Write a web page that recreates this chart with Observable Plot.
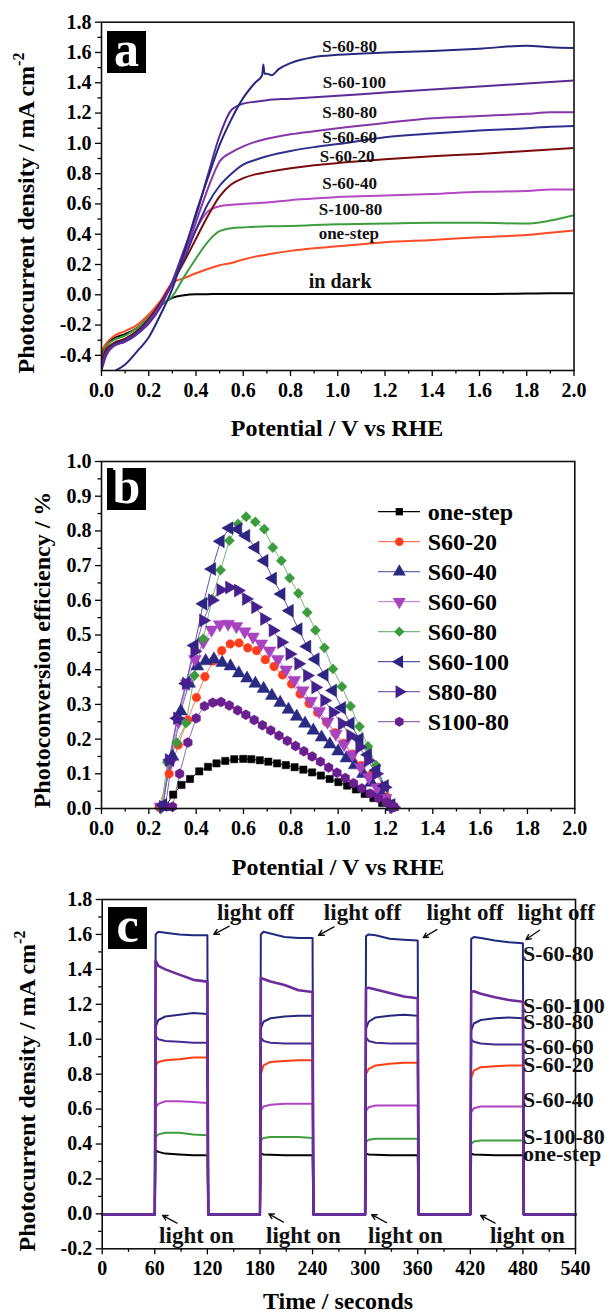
<!DOCTYPE html>
<html><head><meta charset="utf-8">
<script src="https://cdn.jsdelivr.net/npm/d3@7"></script>
<script src="https://cdn.jsdelivr.net/npm/@observablehq/plot@0.6"></script>
<style>
body{margin:0;background:#fff;}
#wrap{position:relative;width:607px;height:1316px;overflow:hidden;background:#fff;font-family:'Liberation Serif','Times New Roman',serif;font-weight:bold;color:#000;}
.panel{position:absolute;left:0;}
.ttl{position:absolute;white-space:nowrap;font-size:24px;line-height:1;transform:translate(-50%,-50%);}
.ttl.rot{transform:translate(-50%,-50%) rotate(-90deg);}
.ttl sup{font-size:16px;vertical-align:0;position:relative;top:-10px;}
.tag{position:absolute;background:#000;color:#fff;font-size:50px;line-height:1;display:flex;align-items:center;justify-content:center;}
.tag span{position:relative;top:-3px;}
</style></head>
<body><div id="wrap">
<div id="pa" class="panel" style="top:0"></div>
<div id="pb" class="panel" style="top:440px"></div>
<div id="pc" class="panel" style="top:880px"></div>
<div class="tag" style="left:107px;top:31px;width:39px;height:42px"><span>a</span></div>
<div class="tag" style="left:107px;top:468px;width:39px;height:42px"><span>b</span></div>
<div class="tag" style="left:108px;top:907px;width:39px;height:42px"><span>c</span></div>
<div class="ttl" style="left:337px;top:428px">Potential / V vs RHE</div>
<div class="ttl rot" style="left:26px;top:213px">Photocurrent density / mA cm<sup>-2</sup></div>
<div class="ttl" style="left:338px;top:867px">Potential / V vs RHE</div>
<div class="ttl rot" style="left:42px;top:650px">Photoconversion efficiency / %</div>
<div class="ttl" style="left:338px;top:1301px">Time / seconds</div>
<div class="ttl rot" style="left:27px;top:1091px">Photocurrent density / mA cm<sup>-2</sup></div>
</div>
<script>
// ---------- Panel a : linear sweep ----------
const aGrid = [0, 0.02, 0.05, 0.1, 0.15, 0.2, 0.25, 0.3, 0.35, 0.4, 0.45, 0.5, 0.55, 0.6, 0.65, 0.7, 0.8, 0.9, 1.0, 1.2, 1.4, 1.6, 1.8, 1.9, 2.0];
const aDark    = [-0.40,-0.33,-0.29,-0.26,-0.22,-0.15,-0.07,-0.02,-0.003,0.003,0.004,0.005,0.005,0.005,0.005,0.005,0.005,0.005,0.005,0.005,0.005,0.005,0.008,0.01,0.01];
const aOneStep = [-0.37,-0.32,-0.275,-0.24,-0.20,-0.13,-0.04,0.08,0.11,0.142,0.17,0.195,0.21,0.233,0.252,0.265,0.29,0.307,0.32,0.347,0.362,0.38,0.395,0.41,0.425];
const aS100_80 = [-0.42,-0.34,-0.30,-0.27,-0.22,-0.15,-0.07,-0.01,0.12,0.24,0.35,0.42,0.44,0.445,0.45,0.452,0.455,0.46,0.465,0.47,0.475,0.475,0.47,0.49,0.525];
const aS60_40  = [-0.45,-0.37,-0.33,-0.30,-0.25,-0.17,-0.06,0.07,0.25,0.43,0.55,0.585,0.595,0.60,0.605,0.61,0.625,0.635,0.645,0.655,0.665,0.68,0.685,0.695,0.695];
const aS60_20  = [-0.44,-0.36,-0.32,-0.29,-0.24,-0.16,-0.05,0.08,0.22,0.37,0.52,0.65,0.73,0.77,0.795,0.81,0.835,0.855,0.87,0.895,0.915,0.93,0.95,0.96,0.97];
const aS60_60  = [-0.46,-0.38,-0.33,-0.30,-0.25,-0.17,-0.06,0.08,0.24,0.43,0.60,0.72,0.80,0.86,0.89,0.915,0.95,0.975,0.995,1.04,1.065,1.085,1.10,1.11,1.115];
const aS80_80  = [-0.48,-0.39,-0.34,-0.31,-0.26,-0.18,-0.07,0.08,0.26,0.48,0.70,0.88,0.94,0.98,1.01,1.03,1.06,1.08,1.10,1.135,1.165,1.18,1.195,1.205,1.205];
const aS60_100 = [-0.50,-0.40,-0.34,-0.31,-0.26,-0.19,-0.08,0.09,0.30,0.52,0.79,1.05,1.22,1.262,1.275,1.285,1.295,1.305,1.315,1.335,1.355,1.375,1.395,1.405,1.415];
const aS60_80x = [0.06,0.1,0.15,0.2,0.25,0.3,0.35,0.4,0.45,0.5,0.55,0.6,0.65,0.68,0.685,0.69,0.7,0.72,0.75,0.8,0.9,1.0,1.2,1.4,1.6,1.8,1.9,2.0];
const aS60_80  = [-0.5,-0.46,-0.375,-0.28,-0.13,0.04,0.28,0.54,0.77,0.99,1.16,1.30,1.40,1.45,1.52,1.46,1.46,1.45,1.49,1.53,1.57,1.585,1.60,1.61,1.625,1.645,1.635,1.63];
const aLabels = [
  {t:"S-60-80", x:1.05, y:1.642}, {t:"S-60-100", x:1.07, y:1.40}, {t:"S-80-80", x:1.05, y:1.206},
  {t:"S-60-60", x:1.05, y:1.037}, {t:"S-60-20", x:1.04, y:0.913}, {t:"S-60-40", x:1.05, y:0.733},
  {t:"S-100-80", x:1.054, y:0.562}, {t:"one-step", x:1.047, y:0.407}
];
const aDarkLabel = [{t:"in dark", x:1.01, y:0.084}];
const aXTicks = [0,0.2,0.4,0.6,0.8,1.0,1.2,1.4,1.6,1.8,2.0];
const aXMinor = [0.1,0.3,0.5,0.7,0.9,1.1,1.3,1.5,1.7,1.9];
const aYTicks = [-0.4,-0.2,0,0.2,0.4,0.6,0.8,1.0,1.2,1.4,1.6,1.8];
const aYMinor = [-0.3,-0.1,0.1,0.3,0.5,0.7,0.9,1.1,1.3,1.5,1.7];

// ---------- Panel b : photoconversion efficiency ----------
const bOneStep = [[0.27,0.005],[0.303,0.04],[0.338,0.068],[0.374,0.085],[0.413,0.107],[0.45,0.12],[0.486,0.13],[0.523,0.137],[0.561,0.142],[0.599,0.143],[0.633,0.142],[0.669,0.139],[0.705,0.135],[0.742,0.13],[0.779,0.125],[0.816,0.119],[0.853,0.112],[0.89,0.104],[0.927,0.095],[0.964,0.085],[1.001,0.076],[1.038,0.066],[1.075,0.055],[1.112,0.042],[1.149,0.03],[1.186,0.016],[1.22,0.004]];
const bS60_20 = [[0.243,0.004],[0.286,0.10],[0.324,0.183],[0.364,0.255],[0.401,0.32],[0.437,0.38],[0.472,0.425],[0.508,0.455],[0.544,0.474],[0.581,0.477],[0.618,0.463],[0.655,0.455],[0.692,0.429],[0.729,0.409],[0.765,0.385],[0.803,0.359],[0.839,0.33],[0.877,0.303],[0.913,0.277],[0.951,0.249],[0.987,0.218],[1.024,0.188],[1.061,0.157],[1.098,0.124],[1.135,0.095],[1.172,0.061],[1.205,0.033],[1.238,0.004]];
const bS60_40 = [[0.27,0.005],[0.30,0.15],[0.335,0.28],[0.37,0.36],[0.405,0.41],[0.44,0.425],[0.475,0.43],[0.51,0.42],[0.545,0.41],[0.58,0.39],[0.615,0.375],[0.65,0.36],[0.685,0.345],[0.72,0.325],[0.755,0.305],[0.79,0.285],[0.825,0.265],[0.86,0.245],[0.895,0.225],[0.93,0.205],[0.965,0.185],[1.0,0.165],[1.035,0.145],[1.07,0.125],[1.105,0.1],[1.14,0.075],[1.175,0.05],[1.21,0.02],[1.23,0.005]];
const bS60_60 = [[0.25,0.005],[0.29,0.13],[0.325,0.25],[0.36,0.36],[0.395,0.43],[0.43,0.48],[0.465,0.515],[0.50,0.53],[0.535,0.532],[0.57,0.525],[0.605,0.51],[0.64,0.495],[0.675,0.475],[0.71,0.455],[0.745,0.43],[0.78,0.40],[0.815,0.37],[0.85,0.34],[0.885,0.31],[0.92,0.28],[0.955,0.25],[0.99,0.215],[1.025,0.185],[1.06,0.155],[1.095,0.12],[1.13,0.09],[1.165,0.06],[1.2,0.03],[1.225,0.005]];
const bS60_80 = [[0.253,0.0],[0.278,0.133],[0.318,0.19],[0.357,0.246],[0.393,0.383],[0.43,0.489],[0.467,0.604],[0.503,0.687],[0.54,0.772],[0.577,0.82],[0.611,0.841],[0.65,0.826],[0.688,0.805],[0.724,0.752],[0.76,0.714],[0.795,0.664],[0.832,0.62],[0.869,0.565],[0.904,0.514],[0.942,0.463],[0.978,0.402],[1.016,0.351],[1.052,0.295],[1.09,0.236],[1.126,0.179],[1.161,0.124],[1.197,0.064],[1.233,0.004]];
const bS60_100 = [[0.26,0.01],[0.29,0.14],[0.32,0.26],[0.357,0.36],[0.393,0.47],[0.43,0.59],[0.467,0.69],[0.503,0.77],[0.54,0.808],[0.577,0.805],[0.611,0.786],[0.65,0.752],[0.688,0.714],[0.724,0.663],[0.76,0.618],[0.795,0.57],[0.832,0.517],[0.869,0.467],[0.904,0.43],[0.942,0.385],[0.978,0.34],[1.016,0.29],[1.052,0.245],[1.09,0.20],[1.126,0.155],[1.161,0.11],[1.197,0.065],[1.225,0.01]];
const bS80_80 = [[0.26,0.005],[0.285,0.14],[0.32,0.26],[0.357,0.36],[0.393,0.453],[0.43,0.542],[0.467,0.60],[0.503,0.63],[0.54,0.637],[0.577,0.628],[0.611,0.604],[0.65,0.58],[0.688,0.546],[0.724,0.513],[0.76,0.479],[0.795,0.445],[0.832,0.417],[0.869,0.383],[0.904,0.349],[0.942,0.311],[0.978,0.277],[1.016,0.244],[1.052,0.21],[1.09,0.177],[1.126,0.138],[1.161,0.10],[1.197,0.061],[1.233,0.004]];
const bS100_80 = [[0.30,0.005],[0.33,0.10],[0.365,0.19],[0.40,0.26],[0.435,0.295],[0.47,0.305],[0.505,0.307],[0.54,0.297],[0.575,0.283],[0.61,0.27],[0.645,0.255],[0.68,0.24],[0.715,0.225],[0.75,0.21],[0.785,0.195],[0.82,0.18],[0.855,0.165],[0.89,0.15],[0.925,0.135],[0.96,0.118],[0.995,0.103],[1.03,0.088],[1.065,0.073],[1.10,0.058],[1.135,0.043],[1.17,0.03],[1.205,0.018],[1.235,0.005]];
const bNames = ["one-step","S60-20","S60-40","S60-60","S60-80","S60-100","S80-80","S100-80"];
const bXTicks = [0,0.2,0.4,0.6,0.8,1.0,1.2,1.4,1.6,1.8,2.0];
const bXMinor = [0.1,0.3,0.5,0.7,0.9,1.1,1.3,1.5,1.7,1.9];
const bYTicks = [0,0.1,0.2,0.3,0.4,0.5,0.6,0.7,0.8,0.9,1.0];
const bYMinor = [0.05,0.15,0.25,0.35,0.45,0.55,0.65,0.75,0.85,0.95];

// ---------- Panel c : chopped light ----------
const cOn  = [60, 180, 300, 420];
const cOff = [120, 240, 360, 480];
const cRel = [1, 4, 12, 28, 44, 60];
const cDark = -0.004;
const cOneStep = [[0.365,0.355,0.345,0.34,0.335,0.335],[0.345,0.34,0.338,0.335,0.335,0.335],[0.345,0.34,0.338,0.335,0.335,0.335],[0.345,0.34,0.338,0.335,0.335,0.335]];
const cS100_80 = [[0.44,0.455,0.465,0.465,0.455,0.45],[0.42,0.435,0.44,0.44,0.44,0.435],[0.41,0.425,0.43,0.43,0.43,0.43],[0.40,0.415,0.42,0.42,0.42,0.42]];
const cS60_40  = [[0.61,0.63,0.645,0.645,0.64,0.635],[0.59,0.615,0.625,0.63,0.63,0.63],[0.59,0.61,0.62,0.62,0.62,0.62],[0.58,0.605,0.615,0.615,0.615,0.615]];
const cS60_20  = [[0.85,0.87,0.88,0.885,0.895,0.895],[0.80,0.85,0.87,0.875,0.88,0.88],[0.80,0.83,0.85,0.86,0.865,0.865],[0.78,0.82,0.84,0.845,0.85,0.85]];
const cS60_60  = [[1.02,1.0,0.99,0.985,0.98,0.98],[1.01,0.99,0.98,0.975,0.975,0.975],[1.01,0.99,0.98,0.975,0.975,0.975],[1.0,0.985,0.975,0.97,0.97,0.97]];
const cS80_80  = [[1.07,1.11,1.13,1.14,1.15,1.145],[1.06,1.10,1.12,1.13,1.135,1.135],[1.06,1.10,1.125,1.135,1.14,1.135],[1.05,1.09,1.11,1.12,1.125,1.12]];
const cS60_80  = [[1.60,1.615,1.61,1.60,1.595,1.595],[1.60,1.615,1.605,1.585,1.58,1.58],[1.59,1.60,1.595,1.575,1.57,1.565],[1.575,1.585,1.58,1.565,1.555,1.55]];
const cS60_100 = [[1.45,1.42,1.40,1.37,1.34,1.33],[1.35,1.345,1.33,1.31,1.28,1.27],[1.29,1.295,1.285,1.265,1.245,1.235],[1.27,1.275,1.26,1.24,1.225,1.215]];
const cRightLabels = [
  {t:"S-60-80", y:1.49}, {t:"S-60-100", y:1.19}, {t:"S-80-80", y:1.10}, {t:"S-60-60", y:0.958},
  {t:"S-60-20", y:0.853}, {t:"S-60-40", y:0.652}, {t:"S-100-80", y:0.443}, {t:"one-step", y:0.345}
];
const cRightLabelT = 480;
const cOffLabels = [{x:175, y:1.723},{x:297, y:1.723},{x:414, y:1.723},{x:518, y:1.723}];
const cOnLabels  = [{x:107.6, y:-0.123},{x:229.6, y:-0.123},{x:346, y:-0.123},{x:485, y:-0.123}];
const cOffArrows = [{x1:145,y1:1.647,x2:127.3,y2:1.601},{x1:264.5,y1:1.643,x2:246.7,y2:1.595},{x1:381.8,y1:1.628,x2:366.3,y2:1.582},{x1:499,y1:1.624,x2:483.5,y2:1.571}];
const cOnArrows  = [{x1:85.3,y1:-0.053,x2:68.9,y2:-0.009},{x1:206.7,y1:-0.047,x2:190.1,y2:0.0},{x1:324.3,y1:-0.05,x2:307.4,y2:-0.005},{x1:448.2,y1:-0.053,x2:431.7,y2:-0.009}];
const cXTicks = [0,60,120,180,240,300,360,420,480,540];
const cXMinor = [30,90,150,210,270,330,390,450,510];
const cYTicks = [-0.2,0,0.2,0.4,0.6,0.8,1.0,1.2,1.4,1.6,1.8];
const cYMinor = [-0.1,0.1,0.3,0.5,0.7,0.9,1.1,1.3,1.5,1.7];

// ---------- helpers ----------
const serif = "'Liberation Serif','Times New Roman',serif";
const f1 = d => d.toFixed(1);
function axes(xT, xM, yT, yM, xf, yf) {
  return [
    Plot.axisX({ticks: xM, tickSize: 3.5, tickFormat: () => "", label: null, strokeWidth: 1.3}),
    Plot.axisX({ticks: xT, tickSize: 6, tickPadding: 6, tickFormat: xf, label: null, strokeWidth: 1.3}),
    Plot.axisY({ticks: yM, tickSize: 3.5, tickFormat: () => "", label: null, strokeWidth: 1.3}),
    Plot.axisY({ticks: yT, tickSize: 6, tickPadding: 4, tickFormat: yf, label: null, strokeWidth: 1.3}),
    Plot.frame({stroke: "#111", strokeWidth: 1.6})
  ];
}
const baseStyle = {fontFamily: serif, fontSize: "20px", fontWeight: "bold", color: "#000", background: "transparent", overflow: "visible"};

// ---------- Panel a ----------
const aCurves = [
  {x: aGrid, y: aDark, c: "#000000"},
  {x: aGrid, y: aOneStep, c: "#ff4a26"},
  {x: aGrid, y: aS100_80, c: "#3e9d3e"},
  {x: aGrid, y: aS60_40, c: "#b348c4"},
  {x: aGrid, y: aS60_20, c: "#7a0c0c"},
  {x: aGrid, y: aS60_60, c: "#2e2f8e"},
  {x: aGrid, y: aS80_80, c: "#8636a6"},
  {x: aGrid, y: aS60_100, c: "#5a2b98"},
  {x: aS60_80x, y: aS60_80, c: "#27287e"}
];
const pa = Plot.plot({
  width: 607, height: 440, marginLeft: 101, marginRight: 33.5, marginTop: 21.7, marginBottom: 70,
  style: baseStyle,
  x: {domain: [0, 2]}, y: {domain: [-0.5, 1.8]},
  marks: [
    ...aCurves.map(c => Plot.line(c.x.map((x, i) => ({x, y: c.y[i]})), {x: "x", y: "y", stroke: c.c, strokeWidth: 2, curve: "monotone-x", clip: true})),
    ...axes(aXTicks, aXMinor, aYTicks, aYMinor, f1, f1),
    Plot.text(aLabels, {x: "x", y: "y", text: "t", fontSize: 17, fontWeight: "bold", fill: "#111"}),
    Plot.text(aDarkLabel, {x: "x", y: "y", text: "t", fontSize: 20, fontWeight: "bold", fill: "#111"})
  ]
});
document.getElementById("pa").append(pa);

// ---------- Panel b ----------
const s3 = Math.sqrt(3);
const triDown = {draw(c, s) { const y = -Math.sqrt(s / (s3 * 3)); c.moveTo(0, -y * 2); c.lineTo(-s3 * y, y); c.lineTo(s3 * y, y); c.closePath(); }};
const triLeft = {draw(c, s) { const y = -Math.sqrt(s / (s3 * 3)); c.moveTo(y * 2, 0); c.lineTo(-y, -s3 * y); c.lineTo(-y, s3 * y); c.closePath(); }};
const triRight = {draw(c, s) { const y = -Math.sqrt(s / (s3 * 3)); c.moveTo(-y * 2, 0); c.lineTo(y, -s3 * y); c.lineTo(y, s3 * y); c.closePath(); }};
const hexa = {draw(c, s) { const r = Math.sqrt(s / 2.598); for (let i = 0; i < 6; i++) { const a = Math.PI / 3 * i - Math.PI / 2; const px = r * Math.cos(a), py = r * Math.sin(a); if (i) c.lineTo(px, py); else c.moveTo(px, py); } c.closePath(); }};
const bSeries = [
  {pts: bOneStep, color: "#000000", line: "#000000", sym: d3.symbolSquare, r: 4.1},
  {pts: bS60_20, color: "#ff3c1c", line: "#ff7a5a", sym: d3.symbolCircle, r: 4.3},
  {pts: bS60_40, color: "#2b2a82", line: "#6a6ab0", sym: d3.symbolTriangle, r: 4.8},
  {pts: bS60_60, color: "#a843c0", line: "#c88ad6", sym: triDown, r: 4.8},
  {pts: bS60_80, color: "#3c9b3c", line: "#74bb74", sym: d3.symbolDiamond2, r: 4.6},
  {pts: bS60_100, color: "#2c2580", line: "#5a56b0", sym: triLeft, r: 4.8},
  {pts: bS80_80, color: "#44208c", line: "#7e62b4", sym: triRight, r: 4.8},
  {pts: bS100_80, color: "#6a1f8e", line: "#9a68b4", sym: hexa, r: 4.5}
];
const pb = Plot.plot({
  width: 607, height: 440, marginLeft: 101, marginRight: 32.7, marginTop: 21, marginBottom: 72,
  style: baseStyle,
  x: {domain: [0, 2]}, y: {domain: [0, 1.0]},
  marks: [
    ...bSeries.map(s => Plot.line(s.pts, {x: d => d[0], y: d => d[1], stroke: s.line, strokeWidth: 1})),
    ...bSeries.map(s => Plot.dot(s.pts, {x: d => d[0], y: d => d[1], symbol: s.sym, r: s.r, fill: s.color, stroke: s.color, strokeWidth: 0.5})),
    ...axes(bXTicks, bXMinor, bYTicks, bYMinor, f1, f1)
  ]
});
document.getElementById("pb").append(pb);

// legend for panel b
const lg = d3.select("#wrap").append("svg").attr("width", 607).attr("height", 1316)
  .style("position", "absolute").style("left", 0).style("top", 0).style("pointer-events", "none");
bSeries.forEach((s, i) => {
  const y = 511.7 + 30 * i;
  lg.append("line").attr("x1", 378).attr("x2", 420).attr("y1", y).attr("y2", y).attr("stroke", s.line).attr("stroke-width", 1.2);
  lg.append("path").attr("transform", `translate(399.3,${y})`).attr("d", d3.symbol(s.sym, s.r * s.r * Math.PI)()).attr("fill", s.color);
  lg.append("text").attr("x", 427.7).attr("y", y).attr("dy", "0.35em").attr("font-family", serif).attr("font-weight", "bold").attr("font-size", 24).text(bNames[i]);
});

// ---------- Panel c ----------
function pulse(levels) {
  const pts = [{t: 0, v: cDark}];
  levels.forEach((cyc, k) => {
    pts.push({t: cOn[k], v: cDark});
    cyc.forEach((v, j) => pts.push({t: cOn[k] + cRel[j], v}));
    pts.push({t: cOff[k] + 1, v: cDark});
  });
  pts.push({t: 540, v: cDark});
  return pts;
}
const cSeries = [
  {lv: cOneStep, c: "#000000"},
  {lv: cS100_80, c: "#3e9e3e"},
  {lv: cS60_40, c: "#b045c4"},
  {lv: cS60_20, c: "#ff3d12"},
  {lv: cS60_60, c: "#472b92"},
  {lv: cS80_80, c: "#262a7e"},
  {lv: cS60_80, c: "#1f2a7e"},
  {lv: cS60_100, c: "#6b2c9c"}
];
const pc = Plot.plot({
  width: 607, height: 436, marginLeft: 101.7, marginRight: 32, marginTop: 19, marginBottom: 67.7,
  style: baseStyle,
  x: {domain: [0, 540]}, y: {domain: [-0.2, 1.8]},
  marks: [
    ...cSeries.map((s, i) => Plot.line(pulse(s.lv), {x: "t", y: "v", stroke: s.c, strokeWidth: i === cSeries.length - 1 ? 2.6 : 2})),
    ...axes(cXTicks, cXMinor, cYTicks, cYMinor, d => String(d), f1),
    Plot.arrow(cOffArrows, {x1: "x1", y1: "y1", x2: "x2", y2: "y2", stroke: "#111", strokeWidth: 1.4, headLength: 9, headAngle: 55}),
    Plot.arrow(cOnArrows, {x1: "x1", y1: "y1", x2: "x2", y2: "y2", stroke: "#111", strokeWidth: 1.4, headLength: 9, headAngle: 55}),
    Plot.text(cOffLabels, {x: "x", y: "y", text: () => "light off", fontSize: 23, fontWeight: "bold", fill: "#111"}),
    Plot.text(cOnLabels, {x: "x", y: "y", text: () => "light on", fontSize: 23, fontWeight: "bold", fill: "#111"}),
    Plot.text(cRightLabels, {x: () => cRightLabelT, y: "y", text: "t", textAnchor: "start", fontSize: 22, fontWeight: "bold", fill: "#111"})
  ]
});
document.getElementById("pc").append(pc);
</script>
</body></html>
